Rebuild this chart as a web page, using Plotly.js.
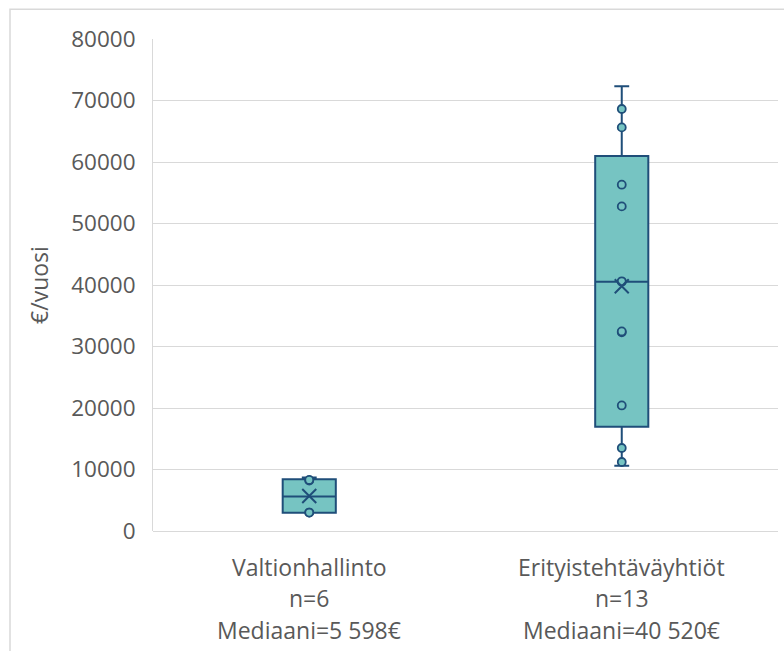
<!DOCTYPE html>
<html>
<head>
<meta charset="utf-8">
<script src="https://cdn.plot.ly/plotly-3.0.1.min.js"></script>
<style>
  html, body { margin: 0; padding: 0; background: #ffffff; }
  #chart { width: 784px; height: 651px; }
</style>
</head>
<body>
<div id="chart"></div>
<script>
// Annual amounts (€/vuosi) per organisation group
const categories = ['Valtionhallinto', 'Erityistehtäväyhtiöt'];
const valtionhallinto = [2950, 3000, 3000, 8196, 8300, 8700];
const erityistehtavayhtiot = [10620, 11220, 13500, 20420, 32300, 32450, 40520, 40600, 52780, 56310, 65630, 68620, 72300];
const yTicks = [0, 10000, 20000, 30000, 40000, 50000, 60000, 70000, 80000];

const series = [valtionhallinto, erityistehtavayhtiot];

const TEAL = '#76C4C2';
const NAVY = '#1F4E79';
const TEXT = '#595959';
const GRID = '#D9D9D9';
const FONT = 'Open Sans, Noto Sans, sans-serif';

// Quartiles with the exclusive method (position p*(n+1), linear interpolation)
function quantileExc(sorted, p) {
  const n = sorted.length;
  const pos = p * (n + 1);
  const i = Math.floor(pos);
  const f = pos - i;
  if (i < 1) return sorted[0];
  if (i >= n) return sorted[n - 1];
  return sorted[i - 1] + f * (sorted[i] - sorted[i - 1]);
}

function stats(values) {
  const s = values.slice().sort((a, b) => a - b);
  const q1 = quantileExc(s, 0.25);
  const med = quantileExc(s, 0.5);
  const q3 = quantileExc(s, 0.75);
  const iqr = q3 - q1;
  const lo = Math.min(...s.filter(v => v >= q1 - 1.5 * iqr));
  const hi = Math.max(...s.filter(v => v <= q3 + 1.5 * iqr));
  const mean = s.reduce((a, b) => a + b, 0) / s.length;
  // inner points: everything strictly between the whisker ends
  const inner = s.filter(v => v > lo && v < hi);
  return { q1, med, q3, lo, hi, mean, inner, n: s.length };
}

function fmtThousands(v) {
  return String(Math.round(v)).replace(/\B(?=(\d{3})+(?!\d))/g, ' ');
}

const traces = [];
const annotations = [];

series.forEach((vals, i) => {
  const st = stats(vals);
  traces.push({
    type: 'box',
    x: [i],
    q1: [st.q1], median: [st.med], q3: [st.q3],
    lowerfence: [st.lo], upperfence: [st.hi],
    width: 0.17,
    whiskerwidth: 0.28,
    fillcolor: TEAL,
    line: { color: NAVY, width: 2 },
    boxpoints: false,
    hoverinfo: 'skip',
    showlegend: false
  });
  traces.push({
    type: 'scatter', mode: 'markers',
    x: st.inner.map(() => i), y: st.inner,
    marker: { symbol: 'circle', size: 8, color: TEAL, line: { color: NAVY, width: 1.8 } },
    hoverinfo: 'skip', showlegend: false
  });
  traces.push({
    type: 'scatter', mode: 'markers',
    x: [i], y: [st.mean],
    marker: { symbol: 'x-thin-open', size: 14, color: NAVY, line: { color: NAVY, width: 2 } },
    hoverinfo: 'skip', showlegend: false
  });

  const lines = [categories[i], 'n=' + st.n, 'Mediaani=' + fmtThousands(st.med) + '€'];
  const shifts = [-36, -67, -99];
  lines.forEach((t, k) => {
    annotations.push({
      text: t, x: i, xref: 'x', y: 0, yref: 'paper',
      xanchor: 'center', yanchor: 'middle', yshift: shifts[k],
      showarrow: false, font: { family: FONT, size: 23, color: TEXT }
    });
  });
});

const layout = {
  width: 784, height: 651,
  margin: { l: 153, r: 6, t: 39, b: 120 },
  paper_bgcolor: '#ffffff', plot_bgcolor: '#ffffff',
  font: { family: FONT, color: TEXT },
  showlegend: false,
  hovermode: false,
  xaxis: {
    range: [-0.5, 1.5], showticklabels: false, showgrid: false,
    zeroline: false, showline: false, fixedrange: true
  },
  yaxis: {
    range: [0, 80000], tickvals: yTicks, tickformat: 'd',
    tickfont: { family: FONT, size: 22.5, color: TEXT },
    ticklabelstandoff: 12,
    gridcolor: GRID, gridwidth: 1,
    zeroline: true, zerolinecolor: GRID, zerolinewidth: 1,
    showline: true, linecolor: GRID, linewidth: 1,
    fixedrange: true,
    title: { text: '€/vuosi', font: { family: FONT, size: 23, color: TEXT }, standoff: 16 }
  },
  annotations: annotations,
  shapes: [{
    type: 'rect', xref: 'paper', yref: 'paper',
    x0: (10 - 153) / 625, x1: 1.2,
    y0: -0.5, y1: (531 - 9.3) / 492,
    line: { color: GRID, width: 1.5 },
    fillcolor: 'rgba(0,0,0,0)', layer: 'below'
  }]
};

Plotly.newPlot('chart', traces, layout, { displayModeBar: false, staticPlot: true });
</script>
</body>
</html>
